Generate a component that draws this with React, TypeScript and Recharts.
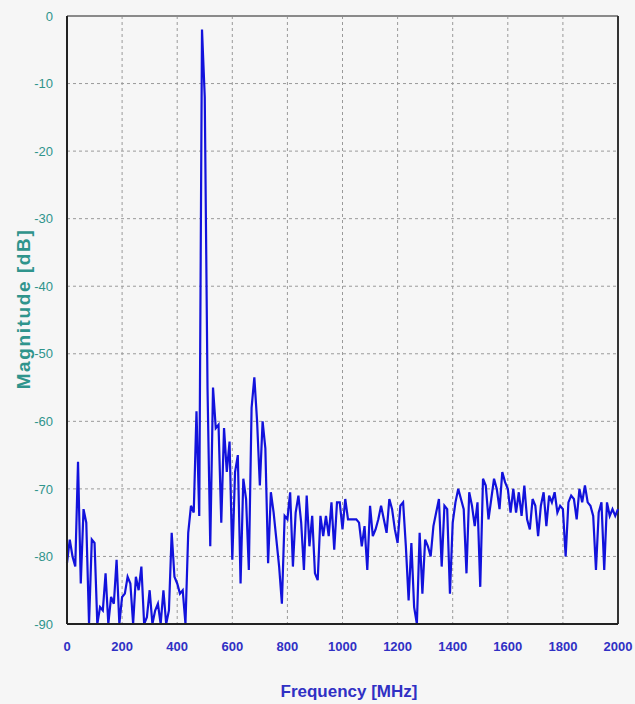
import React from 'react';
import { CartesianGrid, Line, LineChart, ReferenceLine, XAxis, YAxis } from 'recharts';

// spectrum sampled every 10 MHz, 0..2000 MHz
const STEP_MHZ = 10;

const MAGNITUDE_DB = [
  -81, -77.5, -80, -81.5, -66, -84, -73, -75, -90, -77.5,
  -78, -90, -87.5, -88, -82.5, -90, -86, -87, -80.5, -90,
  -86, -85.5, -83, -84, -90, -83, -85, -81.5, -90, -89,
  -85, -90, -88, -87, -90, -85, -90, -88, -76.5, -83,
  -84, -85.5, -85, -90, -76.5, -72.5, -73.5, -58.5, -74, -2,
  -12, -55, -78.5, -55, -61, -60.5, -75, -61, -67.5, -63,
  -80.5, -67.5, -65, -84, -68.5, -71.5, -82, -58, -53.5, -60,
  -69.5, -60, -64, -81, -70.5, -73.5, -77.5, -81.5, -87, -74,
  -74.5, -70.5, -81.5, -73.5, -71, -75, -82, -71, -78.5, -74,
  -82.5, -83.5, -74, -77, -74, -77, -72, -79, -72, -72,
  -76, -71.5, -74.5, -74.5, -74.5, -74.5, -75, -78.5, -75.5, -82,
  -72.5, -77, -76, -74.5, -72.5, -74.5, -76.5, -71.5, -73, -76,
  -78, -72.5, -72, -78.5, -86.5, -78, -87.5, -90, -76.5, -85.5,
  -77.5, -78.5, -80, -75.5, -73.5, -71.5, -81.5, -72.5, -73, -85.5,
  -75, -72, -70, -71.5, -73, -82.5, -70.5, -72.5, -75.5, -72,
  -84.5, -68.5, -69.5, -74.5, -71.5, -68.5, -70, -73, -67.5, -69,
  -70, -73.5, -70, -73.5, -70.5, -74, -69.5, -74.5, -76, -71.5,
  -72.5, -77, -72.5, -70.5, -75.5, -71, -72, -70.5, -73.5, -72.5,
  -73, -80, -72, -71, -71.5, -74.5, -70, -72, -69.5, -72,
  -72.5, -74, -82, -73.5, -72, -82, -72, -74, -73, -74,
  -73,
];

const X_TICKS = [0, 200, 400, 600, 800, 1000, 1200, 1400, 1600, 1800, 2000];
const Y_TICKS = [0, -10, -20, -30, -40, -50, -60, -70, -80, -90];

const data = MAGNITUDE_DB.map((m, i) => ({ freq: i * STEP_MHZ, mag: m }));

const FONT = "'Liberation Sans Narrow', 'Arial Narrow', 'Liberation Sans', sans-serif";
const TEAL = '#2f948c';
const BLUE = '#3030c4';

const YTitle = () => (
  <text
    x={23}
    y={309}
    transform="rotate(-90 23 309)"
    textAnchor="middle"
    dominantBaseline="central"
    fill={TEAL}
    fontSize={19}
    fontWeight="bold"
    letterSpacing={1.6}
    fontFamily={FONT}
  >
    Magnitude [dB]
  </text>
);

const XTitle = () => (
  <text
    x={349}
    y={691}
    textAnchor="middle"
    dominantBaseline="central"
    fill={BLUE}
    fontSize={17}
    fontWeight="bold"
    fontFamily={FONT}
  >
    Frequency [MHz]
  </text>
);

export default function App() {
  return (
    <div style={{ position: 'absolute', left: 0, top: 0, width: 635, height: 704, background: '#f6f6f6' }}>
      <LineChart width={635} height={704} data={data} margin={{ top: 16, right: 17, left: 0, bottom: 0 }}>
        <CartesianGrid stroke="#9a9a9a" strokeDasharray="3 3" />
        <XAxis
          dataKey="freq"
          type="number"
          domain={[0, 2000]}
          ticks={X_TICKS}
          height={80}
          axisLine={{ stroke: '#222', strokeWidth: 2 }}
          tickLine={false}
          tickMargin={12}
          tick={{ fill: BLUE, fontSize: 13, fontWeight: 'bold', fontFamily: FONT }}
          label={<XTitle />}
        />
        <YAxis
          type="number"
          domain={[-90, 0]}
          ticks={Y_TICKS}
          width={67}
          axisLine={{ stroke: '#222', strokeWidth: 2 }}
          tickLine={false}
          tickMargin={8}
          tick={{ fill: TEAL, fontSize: 13, fontFamily: FONT }}
          label={<YTitle />}
        />
        <ReferenceLine y={0} stroke="#8a8a8a" strokeWidth={2} />
        <ReferenceLine x={2000} stroke="#333" strokeWidth={2} />
        <Line
          type="linear"
          dataKey="mag"
          stroke="#1212dc"
          strokeWidth={2.2}
          dot={false}
          isAnimationActive={false}
        />
      </LineChart>
    </div>
  );
}
